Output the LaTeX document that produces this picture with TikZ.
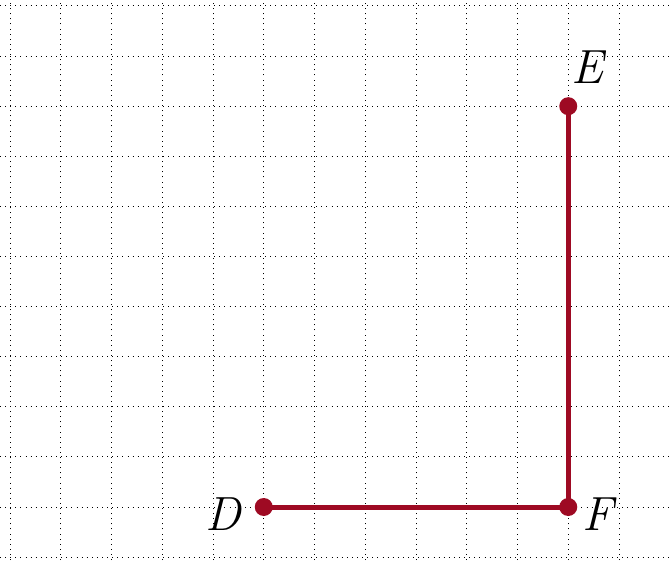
\documentclass[tikz,border=0pt]{standalone}
\usepackage{fontspec}
\definecolor{segred}{RGB}{158,10,35}
\begin{document}
\begin{tikzpicture}[x=1pt,y=1pt,
  gridline/.style={black, line width=1pt, dash pattern=on 1pt off 4.1pt},
  seg/.style={draw=segred, line width=5pt},
  dotpt/.style={circle, fill=segred, inner sep=0pt, minimum size=18pt},
  lab/.style={font=\fontsize{48}{52}\selectfont\itshape, inner sep=0pt}]
\useasboundingbox (0,0) rectangle (669,560);
\foreach \i in {0,...,13} \draw[gridline] ({10+50.75*\i},0) -- ({10+50.75*\i},560);
\foreach \j in {0,...,11} \draw[gridline] (0,{554-50.1*\j}) -- (669,{554-50.1*\j});
\coordinate (D) at (263.75,53);
\coordinate (F) at (568.25,53);
\coordinate (E) at (568.25,453.8);
\draw[seg] (D) -- (F) -- (E);
\node[dotpt] (Dp) at (D) {};
\node[dotpt] (Fp) at (F) {};
\node[dotpt] (Ep) at (E) {};
\node[lab] (Dl) at (223,46) {D};
\node[lab] (Fl) at (598,46) {F};
\node[lab] (El) at (587,493) {E};
\end{tikzpicture}
\end{document}
